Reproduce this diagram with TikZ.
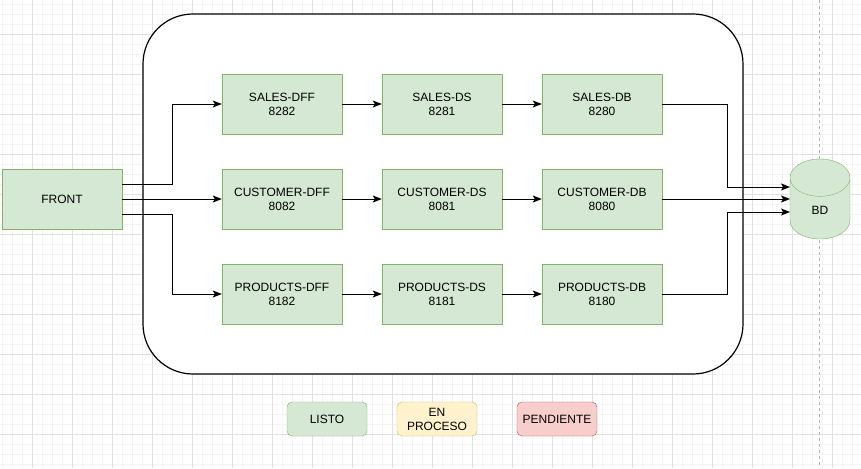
\documentclass[tikz,border=0pt]{standalone}
\usepackage{fontspec}
\setmainfont{Liberation Sans}
\usetikzlibrary{arrows.meta, shapes.geometric}
\definecolor{gridminor}{HTML}{F3F3F3}
\definecolor{gridmajor}{HTML}{E0E0E0}
\definecolor{greenfill}{HTML}{D5E8D4}
\definecolor{greenline}{HTML}{82B366}
\definecolor{yellowfill}{HTML}{FFF2CC}
\definecolor{yellowline}{HTML}{D6B656}
\definecolor{redfill}{HTML}{F8CECC}
\definecolor{redline}{HTML}{B85450}
\tikzset{
    service/.style={draw=greenline, fill=greenfill, minimum width=120pt, minimum height=60pt,
        inner sep=1pt, align=center, font=\fontsize{12}{14}\selectfont},
    legendbox/.style={draw=#1line, fill=#1fill, rounded corners=5pt, minimum width=80pt,
        minimum height=34pt, inner sep=1pt, align=center, font=\fontsize{12}{14}\selectfont},
    conn/.style={-{Stealth[length=9pt, width=7pt, inset=2pt]}, line width=0.9pt}
}

\begin{document}
\begin{tikzpicture}[x=1pt, y=-1pt]
    \useasboundingbox (0,0) rectangle (861,468);
    \fill[white] (0,0) rectangle (861,468);

    % Draw grid
    \foreach \x in {2,12,...,861} {
        \draw[gridminor, line width=0.8pt] (\x,0) -- (\x,468);
    }
    \foreach \y in {4,14,...,468} {
        \draw[gridminor, line width=0.8pt] (0,\y) -- (861,\y);
    }
    \foreach \x in {32,72,...,861} {
        \draw[gridmajor, line width=0.8pt] (\x,0) -- (\x,468);
    }
    \foreach \y in {34,74,...,468} {
        \draw[gridmajor, line width=0.8pt] (0,\y) -- (861,\y);
    }
    % Page break line
    \draw[gray!60, dashed, line width=0.8pt] (819.5,0) -- (819.5,468);

    % Container
    \node[draw, fill=white, line width=1.2pt, rounded corners=50pt,
        minimum width=600pt, minimum height=360pt] (cluster) at (443,194) {};

    % Front and services
    \node[service] (front) at (62,199) {FRONT};

    \node[service] (salesdff) at (282,104) {SALES-DFF\\8282};
    \node[service] (salesds) at (442,104) {SALES-DS\\8281};
    \node[service] (salesdb) at (602,104) {SALES-DB\\8280};

    \node[service] (customerdff) at (282,199) {CUSTOMER-DFF\\8082};
    \node[service] (customerds) at (442,199) {CUSTOMER-DS\\8081};
    \node[service] (customerdb) at (602,199) {CUSTOMER-DB\\8080};

    \node[service] (productsdff) at (282,294) {PRODUCTS-DFF\\8182};
    \node[service] (productsds) at (442,294) {PRODUCTS-DS\\8181};
    \node[service] (productsdb) at (602,294) {PRODUCTS-DB\\8180};

    % Database
    \node[cylinder, shape border rotate=90, aspect=2, draw=greenline, fill=greenfill,
        minimum width=60pt, minimum height=80pt, inner sep=1pt, anchor=shape center,
        font=\fontsize{12}{14}\selectfont] (bd) at (820,199) {BD};
    \coordinate (bdin) at ([xshift=-30pt]bd.shape center);

    % Front to services
    \draw[conn] ([yshift=15pt]front.east) -- ++(50,0) |- (salesdff.west);
    \draw[conn] (front.east) -- (customerdff.west);
    \draw[conn] ([yshift=-15pt]front.east) -- ++(50,0) |- (productsdff.west);

    % Service chains
    \foreach \name in {sales,customer,products} {
        \draw[conn] (\name dff) -- (\name ds);
        \draw[conn] (\name ds) -- (\name db);
    }

    % Services to database
    \draw[conn] (salesdb.east) -- ++(65,0) |- ([yshift=12pt]bdin);
    \draw[conn] (customerdb.east) -- (bdin);
    \draw[conn] (productsdb.east) -- ++(65,0) |- ([yshift=-13pt]bdin);

    % Legend
    \node[legendbox=green] (listo) at (327,419) {LISTO};
    \node[legendbox=yellow] (enproceso) at (437,419) {EN\\PROCESO};
    \node[legendbox=red] (pendiente) at (557,419) {PENDIENTE};
\end{tikzpicture}
\end{document}
